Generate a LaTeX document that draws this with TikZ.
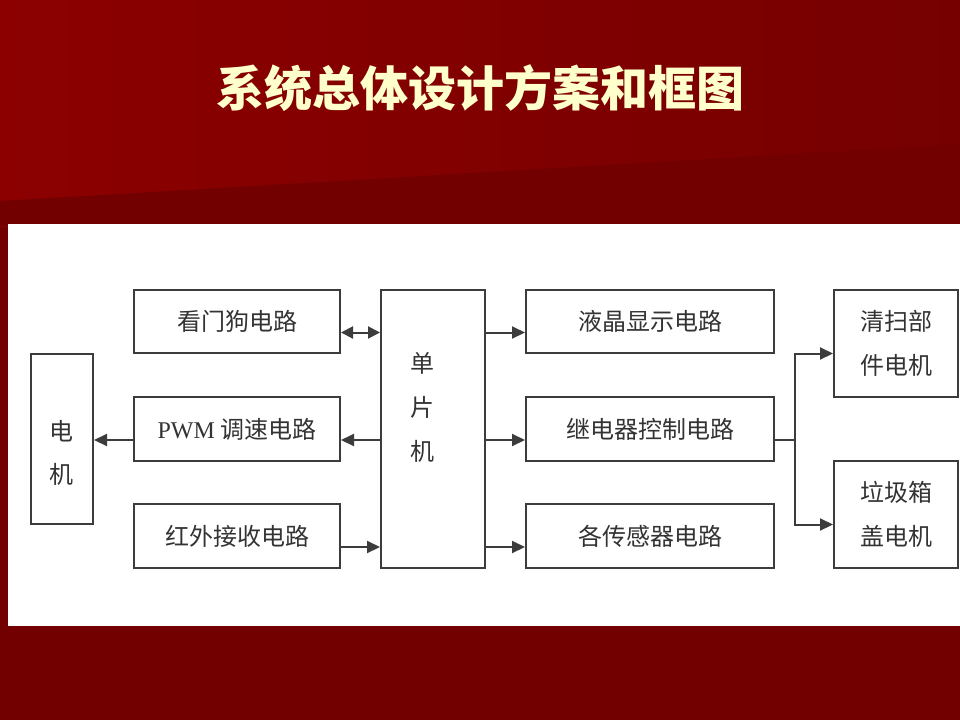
\documentclass[tikz,border=0pt]{standalone}
\usepackage{fontspec}
\usetikzlibrary{arrows.meta,calc}
\newfontfamily\cjk{Noto Sans CJK SC}
\newfontfamily\latinserif{Liberation Serif}
\definecolor{bgtopL}{HTML}{8C0000}
\definecolor{bgtopR}{HTML}{760000}
\definecolor{bgdark}{HTML}{730000}
\definecolor{titlecol}{HTML}{FFFFCC}
\definecolor{linecol}{HTML}{3C3C3C}
\definecolor{txtcol}{HTML}{333333}
\tikzset{
  box/.style={draw=linecol, line width=2pt, fill=white, anchor=north west, inner sep=0pt,
    text=txtcol, font=\cjk\fontsize{24}{44}\selectfont, align=center},
  conn/.style={draw=linecol, line width=2pt},
  arr/.style={conn, -{Triangle[length=13pt,width=12pt]}},
  darr/.style={conn, {Triangle[length=12pt,width=12pt]}-{Triangle[length=12pt,width=12pt]}},
  titletxt/.style={font=\cjk\bfseries\fontsize{48}{52}\selectfont},
}
\begin{document}
\begin{tikzpicture}[x=1pt,y=-1pt]
\useasboundingbox (0,0) rectangle (960,720);
% background
\fill[bgdark] (0,0) rectangle (960,720);
\shade[left color=bgtopL, right color=bgtopR] (0,0) rectangle (960,226);
\fill[bgdark] (0,201) -- (960,144) -- (960,226) -- (0,226) -- cycle;
\fill[white] (8,224) rectangle (960,626);
% title
\node[text=titlecol, titletxt] (title) at (480,88) {系统总体设计方案和框图};
% boxes
\node[box, minimum width=62pt, minimum height=170pt] (motor) at (30,353) {};
\node[text=txtcol, font=\cjk\fontsize{24}{43}\selectfont, align=center] (motortxt) at (61,453) {电\\机};
\node[box, minimum width=206pt, minimum height=63pt] (wd) at (133,289) {看门狗电路};
\node[box, minimum width=206pt, minimum height=64pt] (pwm) at (133,396) {{\latinserif PWM} 调速电路};
\node[box, minimum width=206pt, minimum height=64pt] (ir) at (133,503) {红外接收电路};
\node[box, minimum width=104pt, minimum height=278pt] (mcu) at (380,289) {};
\node[text=txtcol, font=\cjk\fontsize{24}{44}\selectfont, align=center] (mcutxt) at (422,407) {单\\片\\机};
\node[box, minimum width=248pt, minimum height=63pt] (lcd) at (525,289) {液晶显示电路};
\node[box, minimum width=248pt, minimum height=64pt] (relay) at (525,396) {继电器控制电路};
\node[box, minimum width=248pt, minimum height=64pt] (sens) at (525,503) {各传感器电路};
\node[box, minimum width=124pt, minimum height=107pt] (clean) at (833,289) {清扫部\\件电机};
\node[box, minimum width=124pt, minimum height=107pt] (lid) at (833,460) {垃圾箱\\盖电机};
% connectors
\draw[darr] ([yshift=-11pt]wd.east) -- ([yshift=-11pt]wd.east -| mcu.west);
\draw[arr] ([yshift=-11pt]pwm.east -| mcu.west) -- ([yshift=-11pt]pwm.east);
\draw[arr] ([yshift=-11pt]pwm.west) -- ([yshift=-11pt]pwm.west -| motor.east);
\draw[arr] ([yshift=-11pt]ir.east) -- ([yshift=-11pt]ir.east -| mcu.west);
\draw[arr] ([yshift=-11pt]lcd.west -| mcu.east) -- ([yshift=-11pt]lcd.west);
\draw[arr] ([yshift=-11pt]relay.west -| mcu.east) -- ([yshift=-11pt]relay.west);
\draw[arr] ([yshift=-11pt]sens.west -| mcu.east) -- ([yshift=-11pt]sens.west);
\coordinate (split) at ([xshift=20pt,yshift=-11pt]relay.east);
\draw[conn] ([yshift=-11pt]relay.east) -- (split);
\draw[arr] (split) |- ([yshift=-10pt]clean.west);
\draw[arr] (split) |- ([yshift=-10pt]lid.west);
\end{tikzpicture}
\end{document}
